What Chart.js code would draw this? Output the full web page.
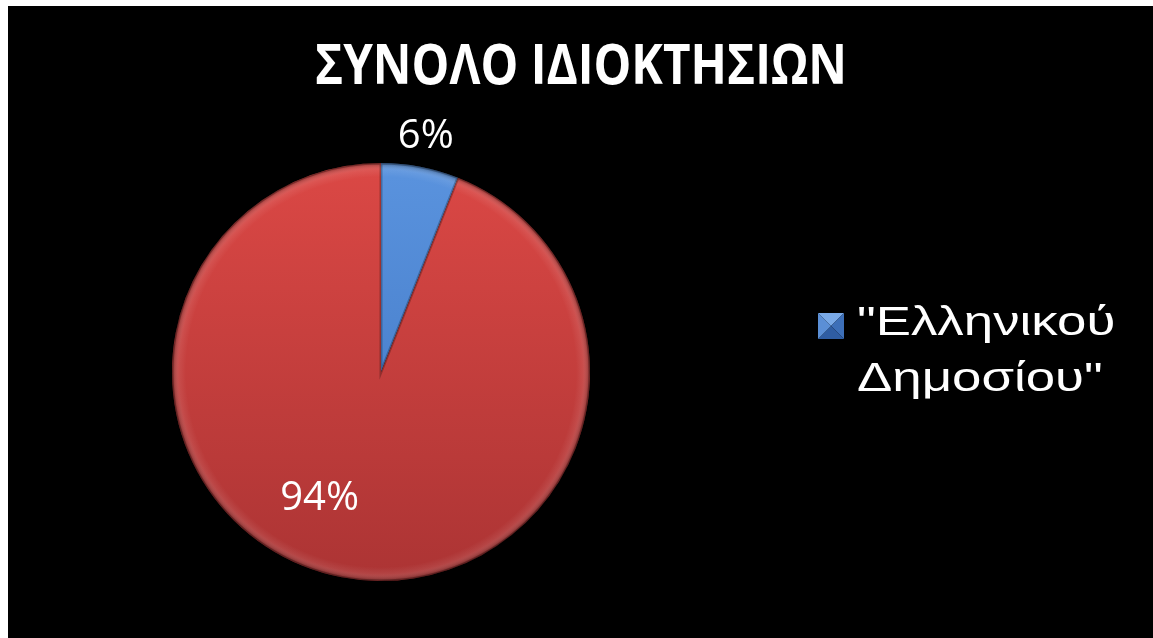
<!DOCTYPE html>
<html lang="el">
<head>
    <meta charset="UTF-8">
    <title>ΣΥΝΟΛΟ ΙΔΙΟΚΤΗΣΙΩΝ</title>
    <script src="https://cdn.jsdelivr.net/npm/chart.js"></script>
    <style>
        html, body {
            margin: 0;
            padding: 0;
            background: #ffffff;
            overflow: hidden;
        }
        .frame {
            position: absolute;
            left: 8px;
            top: 6px;
            width: 1145px;
            height: 632px;
            background: #000000;
        }
        canvas {
            display: block;
        }
    </style>
</head>
<body>
    <div class="frame">
        <canvas id="ownershipChart" width="1145" height="632"></canvas>
    </div>

    <script>
        // data
        const titleText = 'ΣΥΝΟΛΟ ΙΔΙΟΚΤΗΣΙΩΝ';
        const categories = ['"Ελληνικού Δημοσίου"', ''];
        const shares = [6, 94];
        const sliceTop = ['#5a93de', '#db4845'];
        const sliceBottom = ['#3d73c0', '#ac3434'];

        // label placement: fraction of radius, angle shift (deg)
        const labelRadius = [1.145, 0.675];
        const labelShift = [0, 15];

        function sliceFill(context) {
            const chart = context.chart;
            const area = chart.chartArea;
            if (!area) return sliceTop[context.dataIndex];
            const g = chart.ctx.createLinearGradient(0, area.top, 0, area.bottom);
            g.addColorStop(0, sliceTop[context.dataIndex]);
            g.addColorStop(1, sliceBottom[context.dataIndex]);
            return g;
        }

        // draws text squeezed or stretched horizontally around x
        function scaledText(ctx, text, x, y, sx, align) {
            ctx.save();
            ctx.translate(x, y);
            ctx.scale(sx, 1);
            ctx.textAlign = align;
            ctx.fillText(text, 0, 0);
            ctx.restore();
        }

        const decorPlugin = {
            id: 'decor',
            afterDatasetsDraw(chart) {
                const ctx = chart.ctx;
                const meta = chart.getDatasetMeta(0);
                const total = shares.reduce((a, b) => a + b, 0);

                // bevel rim on each slice
                meta.data.forEach(arc => {
                    const p = arc.getProps(['x', 'y', 'startAngle', 'endAngle', 'outerRadius']);
                    ctx.save();
                    ctx.beginPath();
                    ctx.moveTo(p.x, p.y);
                    ctx.arc(p.x, p.y, p.outerRadius, p.startAngle, p.endAngle);
                    ctx.closePath();
                    ctx.clip();
                    const rg = ctx.createRadialGradient(p.x, p.y, p.outerRadius - 14, p.x, p.y, p.outerRadius);
                    rg.addColorStop(0, 'rgba(255,255,255,0)');
                    rg.addColorStop(0.5, 'rgba(255,255,255,0.08)');
                    rg.addColorStop(1, 'rgba(0,0,0,0.35)');
                    ctx.fillStyle = rg;
                    ctx.fillRect(p.x - p.outerRadius, p.y - p.outerRadius, p.outerRadius * 2, p.outerRadius * 2);
                    ctx.strokeStyle = 'rgba(0,0,0,0.25)';
                    ctx.lineWidth = 3;
                    ctx.beginPath();
                    ctx.moveTo(p.x, p.y);
                    ctx.arc(p.x, p.y, p.outerRadius, p.startAngle, p.endAngle);
                    ctx.closePath();
                    ctx.stroke();
                    ctx.restore();
                });

                // percentage labels
                ctx.save();
                ctx.fillStyle = '#ffffff';
                ctx.font = '40px "Open Sans", "DejaVu Sans", sans-serif';
                ctx.textAlign = 'center';
                ctx.textBaseline = 'middle';
                meta.data.forEach((arc, i) => {
                    const p = arc.getProps(['x', 'y', 'startAngle', 'endAngle', 'outerRadius']);
                    const mid = (p.startAngle + p.endAngle) / 2 + labelShift[i] * Math.PI / 180;
                    const r = p.outerRadius * labelRadius[i];
                    const pct = Math.round(shares[i] / total * 100) + '%';
                    ctx.fillText(pct, p.x + Math.cos(mid) * r, p.y + Math.sin(mid) * r);
                });
                ctx.restore();

                // title
                ctx.save();
                ctx.fillStyle = '#ffffff';
                ctx.font = 'bold 56px "Open Sans", "DejaVu Sans", sans-serif';
                ctx.textBaseline = 'alphabetic';
                scaledText(ctx, titleText, 573, 78, 0.85, 'center');
                ctx.restore();

                // legend (only the named category)
                ctx.save();
                const bx = 810, by = 307, bs = 26;
                const cx = bx + bs / 2, cy = by + bs / 2;
                const faces = [
                    [[bx, by], [bx + bs, by], '#7aaae8'],
                    [[bx + bs, by], [bx + bs, by + bs], '#3d6fb8'],
                    [[bx + bs, by + bs], [bx, by + bs], '#2f5da3'],
                    [[bx, by + bs], [bx, by], '#5b8fd6']
                ];
                faces.forEach(f => {
                    ctx.beginPath();
                    ctx.moveTo(f[0][0], f[0][1]);
                    ctx.lineTo(f[1][0], f[1][1]);
                    ctx.lineTo(cx, cy);
                    ctx.closePath();
                    ctx.fillStyle = f[2];
                    ctx.fill();
                });
                ctx.fillStyle = '#ffffff';
                ctx.font = '40px "Liberation Sans", Arial, sans-serif';
                ctx.textBaseline = 'alphabetic';
                categories[0].split(' ').forEach((line, k) => {
                    scaledText(ctx, line, 849, 329 + k * 56, 1.32, 'left');
                });
                ctx.restore();
            }
        };

        const ctx = document.getElementById('ownershipChart').getContext('2d');
        const ownershipChart = new Chart(ctx, {
            type: 'pie',
            data: {
                labels: categories,
                datasets: [{
                    data: shares,
                    backgroundColor: sliceFill,
                    borderWidth: 0
                }]
            },
            options: {
                responsive: false,
                animation: false,
                layout: {
                    padding: { left: 164, right: 563, top: 157, bottom: 57 }
                },
                plugins: {
                    legend: { display: false },
                    title: { display: false },
                    tooltip: { enabled: false }
                }
            },
            plugins: [decorPlugin]
        });
    </script>
</body>
</html>
